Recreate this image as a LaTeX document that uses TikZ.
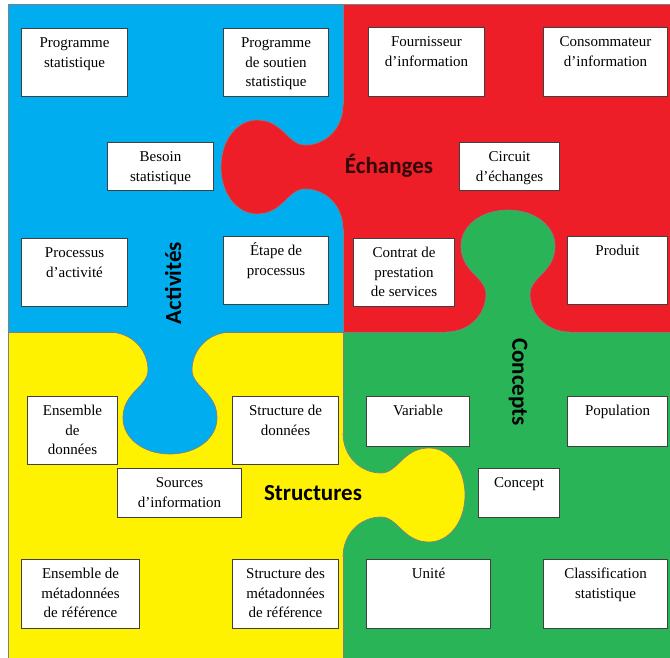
\documentclass[tikz,border=0pt]{standalone}
\usepackage{fontspec}
\setmainfont{Liberation Serif}
\newfontfamily\headfont{Carlito}
\definecolor{pzblue}{RGB}{0,174,239}
\definecolor{pzred}{RGB}{237,30,40}
\definecolor{pzyellow}{RGB}{255,242,0}
\definecolor{pzgreen}{RGB}{42,180,88}
\definecolor{pzdark}{RGB}{48,8,8}
\newcommand{\boxtxt}[3]{\parbox[c][#2pt][t]{#1pt}{\centering\vspace*{5pt}\strut #3\par}}
\tikzset{
  box/.style={draw=black!75, line width=1.1pt, fill=white, inner sep=0pt, anchor=north west,
    font=\fontsize{15}{19.7}\selectfont},
  head/.style={inner sep=0pt, font={\headfont\bfseries\fontsize{23}{26}\selectfont}},
  edge/.style={draw=black!50, line width=0.7pt},
  tabshape/.style={insert path={
    .. controls (0,-38) and (18,-22) .. (38,-22)
    .. controls (55,-22) and (60,-47) .. (86,-47)
    .. controls (106,-47) and (122,-27) .. (122,0)
    .. controls (122,27) and (106,47) .. (86,47)
    .. controls (60,47) and (55,22) .. (38,22)
    .. controls (18,22) and (0,38) .. (0,62)}}
}
\begin{document}
\begin{tikzpicture}[x=1pt,y=-1pt]
\useasboundingbox (0,0) rectangle (670,658);

% the four pieces
\fill[pzblue] (8,4) rectangle (343,332);
\fill[pzred] (343,4) rectangle (670,332);
\fill[pzyellow] (8,332) rectangle (343,658);
\fill[pzgreen] (343,332) rectangle (670,658);
\draw[edge] (343,4) -- (343,658) (8,332) -- (670,332);
\draw[edge] (8,658) -- (8,4) -- (670,4);

% tabs
\begin{scope}[shift={(343,167)}, rotate=180]
\fill[pzred] (-2,-62) -- (0,-62) [tabshape] -- (-2,62) -- cycle;
\draw[edge] (0,-62) [tabshape];
\end{scope}
\begin{scope}[shift={(170,332)}, rotate=-90]
\fill[pzblue] (-2,-62) -- (0,-62) [tabshape] -- (-2,62) -- cycle;
\draw[edge] (0,-62) [tabshape];
\end{scope}
\begin{scope}[shift={(508,332)}, rotate=90]
\fill[pzgreen] (-2,-62) -- (0,-62) [tabshape] -- (-2,62) -- cycle;
\draw[edge] (0,-62) [tabshape];
\end{scope}
\begin{scope}[shift={(343,495)}]
\fill[pzyellow] (-2,-62) -- (0,-62) [tabshape] -- (-2,62) -- cycle;
\draw[edge] (0,-62) [tabshape];
\end{scope}

% titles
\node[head, rotate=90] (activites) at (173,283) {Activités};
\node[head, text=pzdark] (echanges) at (389,166) {Échanges};
\node[head] (structures) at (313,493) {Structures};
\node[head, rotate=-90] (concepts) at (518,382) {Concepts};

% Activites
\node[box] (progstat) at (21,28) {\boxtxt{106}{68}{Programme\\statistique}};
\node[box] (progsout) at (223,28) {\boxtxt{105}{68}{Programme\\de soutien\\statistique}};
\node[box] (besoin) at (107,142) {\boxtxt{106}{48}{Besoin\\statistique}};
\node[box] (procact) at (21,238) {\boxtxt{106}{68}{Processus\\d’activité}};
\node[box] (etape) at (223,236) {\boxtxt{105}{68}{Étape de\\processus}};
% Echanges
\node[box] (fourn) at (368,27) {\boxtxt{116}{69}{Fournisseur\\d’information}};
\node[box] (conso) at (543,27) {\boxtxt{124}{69}{Consommateur\\d’information}};
\node[box] (circuit) at (459,142) {\boxtxt{100}{48}{Circuit\\d’échanges}};
\node[box] (contrat) at (353,238) {\boxtxt{101}{68}{Contrat de\\prestation\\de services}};
\node[box] (produit) at (567,236) {\boxtxt{100}{68}{Produit}};
% Structures
\node[box] (ensdon) at (27,396) {\boxtxt{90}{68}{Ensemble\\de\\données}};
\node[box] (structdon) at (232,396) {\boxtxt{106}{68}{Structure de\\données}};
\node[box] (sources) at (117,468) {\boxtxt{124}{49}{Sources\\d’information}};
\node[box] (ensmeta) at (21,559) {\boxtxt{118}{69}{Ensemble de\\métadonnées\\de référence}};
\node[box] (structmeta) at (232,559) {\boxtxt{106}{69}{Structure des\\métadonnées\\de référence}};
% Concepts
\node[box] (variable) at (366,396) {\boxtxt{103}{50}{Variable}};
\node[box] (population) at (567,396) {\boxtxt{100}{50}{Population}};
\node[box] (concept) at (478,468) {\boxtxt{81}{49}{Concept}};
\node[box] (unite) at (366,559) {\boxtxt{124}{69}{Unité}};
\node[box] (classif) at (543,559) {\boxtxt{124}{69}{Classification\\statistique}};
\end{tikzpicture}
\end{document}
